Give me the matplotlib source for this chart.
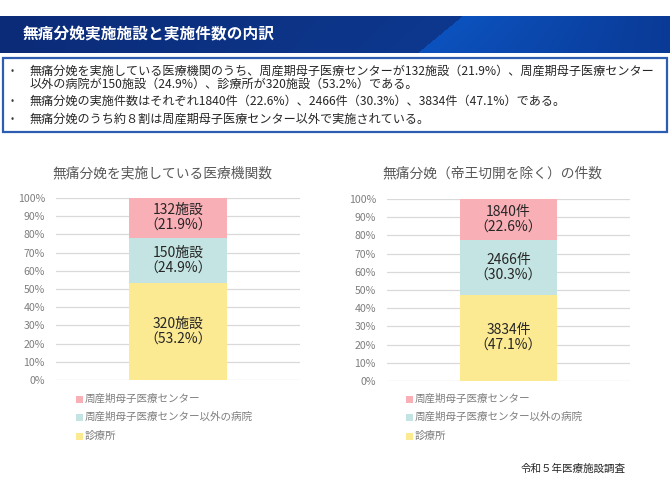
import numpy as np
import matplotlib
matplotlib.use("Agg")
import matplotlib.pyplot as plt
from matplotlib.patches import Rectangle

plt.rcParams['font.family'] = ['Noto Sans CJK JP', 'DejaVu Sans']

# ---------------- data ----------------
categories = ["周産期母子医療センター", "周産期母子医療センター以外の病院", "診療所"]
facility_counts = [132, 150, 320]
facility_pcts = [21.9, 24.9, 53.2]
delivery_counts = [1840, 2466, 3834]
delivery_pcts = [22.6, 30.3, 47.1]
yticks = [0, 10, 20, 30, 40, 50, 60, 70, 80, 90, 100]
ytick_labels = [f"{v}%" for v in yticks]

header_title = "無痛分娩実施施設と実施件数の内訳"
bullet_lines = [
    "無痛分娩を実施している医療機関のうち、周産期母子医療センターが132施設（21.9%）、周産期母子医療センター",
    "以外の病院が150施設（24.9%）、診療所が320施設（53.2%）である。",
    "無痛分娩の実施件数はそれぞれ1840件（22.6%）、2466件（30.3%）、3834件（47.1%）である。",
    "無痛分娩のうち約８割は周産期母子医療センター以外で実施されている。",
]
chart_titles = ["無痛分娩を実施している医療機関数", "無痛分娩（帝王切開を除く）の件数"]
units = ["施設", "件"]
source = "令和５年医療施設調査"

colors = ["#F9AFB6", "#C3E4E2", "#FCEA92"]

W, H = 670, 501
fig = plt.figure(figsize=(W / 100, H / 100), dpi=100)
fig.patch.set_facecolor("white")


def fx(x):
    return x / W


def fy(y):
    return 1 - y / H


# ---------------- header ----------------
hy0, hy1 = 16, 53
hh = hy1 - hy0
img = np.zeros((hh, W, 3))
dark_l = np.array([0x0B, 0x2B, 0x78]) / 255
dark_r = np.array([0x0D, 0x38, 0x8E]) / 255
bright_l = np.array([0x0C, 0x52, 0xBE]) / 255
bright_r = np.array([0x0A, 0x3A, 0x96]) / 255
for yy in range(hh):
    xb = 462 - (yy / hh) * 45
    for xx in range(W):
        if xx < xb:
            t = xx / xb
            img[yy, xx] = dark_l * (1 - t) + dark_r * t
        else:
            t = (xx - xb) / (W - xb)
            img[yy, xx] = bright_l * (1 - t) + bright_r * t
hax = fig.add_axes([0, fy(hy1), 1, hh / H])
hax.imshow(img, aspect="auto", extent=[0, W, hh, 0])
hax.axis("off")
fig.text(fx(23), fy(34), header_title, color="white", fontsize=11.3,
         fontweight="bold", va="center", ha="left")

# ---------------- bullet box ----------------
box = Rectangle((fx(3), fy(132)), fx(664), (132 - 58) / H, transform=fig.transFigure,
                fill=False, edgecolor="#2D5DB0", linewidth=1.6)
fig.patches.append(box)
line_y = [71, 84, 101, 119]
bullet_on = [True, False, True, True]
for txt, yy, b in zip(bullet_lines, line_y, bullet_on):
    if b:
        fig.text(fx(11), fy(yy), "•", color="#404040", fontsize=7, va="center", ha="left")
    fig.text(fx(30), fy(yy), txt, color="#262626", fontsize=8.72, va="center", ha="left")


# ---------------- charts ----------------
def draw_chart(rect, counts, pcts, unit, title, title_x, leg_x):
    x0, y0, x1, y1 = rect
    ax = fig.add_axes([fx(x0), fy(y1), (x1 - x0) / W, (y1 - y0) / H])
    order = [2, 1, 0]  # bottom to top: 診療所, 病院, センター
    bottom = 0
    for i in order:
        ax.bar(0, pcts[i], bottom=bottom, width=0.4, color=colors[i], zorder=3)
        ax.text(0, bottom + pcts[i] / 2, f"{counts[i]}{unit}\n（{pcts[i]}%）",
                ha="center", va="center", fontsize=10, color="#262626",
                linespacing=1.15, zorder=4)
        bottom += pcts[i]
    ax.set_xlim(-0.5, 0.5)
    ax.set_ylim(0, 100)
    ax.set_yticks(yticks)
    ax.set_yticklabels(ytick_labels, color="#7F7F7F", fontsize=7.6)
    ax.set_xticks([])
    ax.tick_params(axis="y", length=0, pad=8)
    ax.grid(axis="y", color="#D9D9D9", linewidth=0.9, zorder=0)
    for s in ax.spines.values():
        s.set_visible(False)
    fig.text(fx(title_x), fy(173), title, ha="center", va="center",
             fontsize=9.9, color="#595959")
    for k, yy in enumerate([399, 417, 436]):
        sq = Rectangle((fx(leg_x), fy(yy + 3.5)), 7 / W, 7 / H, transform=fig.transFigure,
                       facecolor=colors[k], edgecolor="none")
        fig.patches.append(sq)
        fig.text(fx(leg_x + 9), fy(yy), categories[k], ha="left", va="center",
                 fontsize=7.6, color="#7F7F7F")
    return ax


draw_chart((56, 198, 300, 380), facility_counts, facility_pcts, units[0], chart_titles[0], 162, 76)
draw_chart((387, 199, 630, 381), delivery_counts, delivery_pcts, units[1], chart_titles[1], 492, 406)

fig.text(fx(626), fy(469), source, ha="right", va="center", fontsize=7.6, color="#262626")

fig.savefig("out.png", dpi=100)
